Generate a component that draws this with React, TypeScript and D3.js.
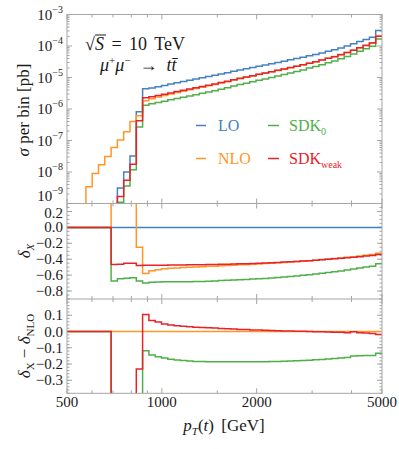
import React from "react";
import * as d3 from "d3";

// ---------- data ----------
const binEdges = [500.0, 523.6, 548.2, 574.1, 601.1, 629.5, 659.1, 690.2, 722.7, 756.8, 792.4, 829.8, 868.9, 909.9, 952.7, 997.6, 1044.6, 1093.9, 1145.4, 1199.4, 1255.9, 1315.1, 1377.1, 1442.0, 1510.0, 1581.1, 1655.7, 1733.7, 1815.4, 1900.9, 1990.5, 2084.3, 2182.6, 2285.4, 2393.2, 2505.9, 2624.0, 2747.7, 2877.2, 3012.8, 3154.8, 3303.5, 3459.2, 3622.2, 3792.9, 3971.6, 4158.8, 4354.8, 4560.1, 4775.0, 5000.0];

const sigmaLO = [0, 0, 0, 0, 0, 0, 0, 3e-10, 3.1e-9, 1.0e-8, 3.2e-8, 8.2e-7,
  4.37e-6, 4.68e-6, 5.13e-6, 5.62e-6, 6.17e-6, 6.76e-6, 7.41e-6, 8.13e-6, 8.91e-6, 9.77e-6,
  1.07e-5, 1.17e-5, 1.29e-5, 1.41e-5, 1.58e-5, 1.74e-5, 1.91e-5, 2.09e-5, 2.29e-5, 2.51e-5,
  2.75e-5, 3.02e-5, 3.31e-5, 3.63e-5, 3.98e-5, 4.37e-5, 4.90e-5, 5.37e-5, 6.03e-5, 6.76e-5,
  7.59e-5, 8.71e-5, 1.00e-4, 1.17e-4, 1.38e-4, 1.62e-4, 1.91e-4, 3.09e-4];

const sigmaNLO = [0, 0, 0, 3.4e-9, 9.0e-9, 1.7e-8, 3.1e-8, 6.0e-8, 1.03e-7, 1.9e-7, 4.0e-7, 6.15e-7,
  1.835e-6, 2.134e-6, 2.396e-6, 2.692e-6, 2.999e-6, 3.319e-6, 3.668e-6, 4.057e-6, 4.482e-6, 4.944e-6,
  5.457e-6, 6.002e-6, 6.669e-6, 7.346e-6, 8.295e-6, 9.205e-6, 1.016e-5, 1.122e-5, 1.239e-5, 1.368e-5,
  1.513e-5, 1.676e-5, 1.854e-5, 2.051e-5, 2.269e-5, 2.517e-5, 2.852e-5, 3.158e-5, 3.588e-5, 4.070e-5,
  4.622e-5, 5.365e-5, 6.25e-5, 7.336e-5, 8.832e-5, 1.053e-4, 1.261e-4, 2.089e-4];

const sigmaSDK0 = [0, 0, 0, 0, 0, 0, 0, 9.8e-11, 1.10e-9, 3.6e-9, 1.17e-8, 2.67e-7,
  1.320e-6, 1.455e-6, 1.601e-6, 1.776e-6, 1.950e-6, 2.136e-6, 2.342e-6, 2.577e-6, 2.842e-6, 3.136e-6,
  3.467e-6, 3.826e-6, 4.270e-6, 4.724e-6, 5.356e-6, 5.968e-6, 6.609e-6, 7.336e-6, 8.130e-6, 9.011e-6,
  1.004e-5, 1.120e-5, 1.248e-5, 1.390e-5, 1.552e-5, 1.739e-5, 1.989e-5, 2.223e-5, 2.551e-5, 2.927e-5,
  3.362e-5, 3.946e-5, 4.650e-5, 5.581e-5, 6.776e-5, 8.132e-5, 9.798e-5, 1.675e-4];

const sigmaSDKweak = [0, 0, 0, 0, 0, 0, 0, 1.6e-10, 1.66e-9, 5.5e-9, 1.76e-8, 4.26e-7,
  2.290e-6, 2.452e-6, 2.693e-6, 2.951e-6, 3.245e-6, 3.563e-6, 3.912e-6, 4.301e-6, 4.722e-6, 5.188e-6,
  5.703e-6, 6.248e-6, 6.914e-6, 7.586e-6, 8.532e-6, 9.431e-6, 1.039e-5, 1.143e-5, 1.260e-5, 1.388e-5,
  1.529e-5, 1.691e-5, 1.867e-5, 2.062e-5, 2.277e-5, 2.521e-5, 2.852e-5, 3.152e-5, 3.576e-5, 4.049e-5,
  4.592e-5, 5.322e-5, 6.18e-5, 7.313e-5, 8.722e-5, 1.037e-4, 1.238e-4, 2.033e-4];

const xMajorTicks = [500, 1000, 2000, 5000];
const xMinorTicks = [600, 700, 800, 900, 1500, 3000, 4000];
const topDecades = [-9, -8, -7, -6, -5, -4, -3];
const midTicks = [0.2, 0.0, -0.2, -0.4, -0.6, -0.8];
const botTicks = [0.1, 0.0, -0.1, -0.2, -0.3];

const COLORS = { LO: "#4381c3", NLO: "#ff9626", SDK0: "#4fb04a", SDKweak: "#e6232a" };

// ---------- layout ----------
const W = 399, H = 449;
const L = 67, R = 382;
const T1 = 14.5, B1 = 203.5, B2 = 299, B3 = 393.3;
const FONT = "'Liberation Serif', 'DejaVu Serif', serif";
const FRAME = "#a6a6a6";
const INK = "#1a1a1a";

const x = d3.scaleLog().domain([500, 5000]).range([L, R]);
const yTop = d3.scaleLog().domain([1e-9, 1e-3]).range([B1, T1]);
const yMid = d3.scaleLinear().domain([-0.9, 0.3]).range([B2, B1]);
const yBot = d3.scaleLinear().domain([-0.38, 0.2]).range([B3, B2]);

const delta = (s: number[]) => s.map((v, i) => (sigmaLO[i] > 0 ? v / sigmaLO[i] - 1 : 0));
const dLO = delta(sigmaLO), dNLO = delta(sigmaNLO), d0 = delta(sigmaSDK0), dW = delta(sigmaSDKweak);
const diff = (d: number[]) => d.map((v, i) => v - dNLO[i]);

const line = d3.line<[number, number]>();
function stepPath(ys: number[]) {
  const pts: [number, number][] = [];
  ys.forEach((y, i) => {
    const yy = Math.max(-100, Math.min(600, y));
    pts.push([x(binEdges[i]), yy], [x(binEdges[i + 1]), yy]);
  });
  return line(pts) || "";
}
const topY = (s: number[]) => s.map((v) => (v > 0 ? yTop(v) : 400));

const series = [
  { key: "LO", top: sigmaLO, mid: dLO },
  { key: "NLO", top: sigmaNLO, mid: dNLO },
  { key: "SDK0", top: sigmaSDK0, mid: d0 },
  { key: "SDKweak", top: sigmaSDKweak, mid: dW },
];

function XTicks({ y0, y1 }: { y0: number; y1: number }) {
  return (
    <g stroke={FRAME} strokeWidth={1}>
      {xMajorTicks.map((t) => (
        <g key={"M" + t}>
          <line x1={x(t)} x2={x(t)} y1={y1} y2={y1 - 5} />
          <line x1={x(t)} x2={x(t)} y1={y0} y2={y0 + 5} />
        </g>
      ))}
      {xMinorTicks.map((t) => (
        <g key={"m" + t}>
          <line x1={x(t)} x2={x(t)} y1={y1} y2={y1 - 3} />
          <line x1={x(t)} x2={x(t)} y1={y0} y2={y0 + 3} />
        </g>
      ))}
    </g>
  );
}

function YTick({ y, len }: { y: number; len: number }) {
  return (
    <g stroke={FRAME} strokeWidth={1}>
      <line x1={L} x2={L + len} y1={y} y2={y} />
      <line x1={R} x2={R - len} y1={y} y2={y} />
    </g>
  );
}

export default function App() {
  const topMinor: number[] = [];
  for (let e = -9; e < -3; e++) for (let m = 2; m <= 9; m++) topMinor.push(m * Math.pow(10, e));
  const midMinor = d3.range(-0.9, 0.30001, 0.05).map((v) => +v.toFixed(2));
  const botMinor = d3.range(-0.38, 0.2001, 0.02).map((v) => +v.toFixed(2));

  return (
    <svg width={W} height={H} style={{ position: "absolute", left: 0, top: 0, background: "#fff", fontFamily: FONT }}>
      <defs>
        <clipPath id="c1"><rect x={L} y={T1} width={R - L} height={B1 - T1} /></clipPath>
        <clipPath id="c2"><rect x={L} y={B1} width={R - L} height={B2 - B1} /></clipPath>
        <clipPath id="c3"><rect x={L} y={B2} width={R - L} height={B3 - B2} /></clipPath>
      </defs>

      {/* ticks */}
      <XTicks y0={T1} y1={B1} />
      <XTicks y0={B1} y1={B2} />
      <XTicks y0={B2} y1={B3} />
      {topDecades.map((e) => <YTick key={"td" + e} y={yTop(Math.pow(10, e))} len={5} />)}
      {topMinor.map((v, i) => <YTick key={"tm" + i} y={yTop(v)} len={2.5} />)}
      {midMinor.map((v, i) => <YTick key={"mm" + i} y={yMid(v)} len={2.5} />)}
      {midTicks.map((v) => <YTick key={"mt" + v} y={yMid(v)} len={5} />)}
      {botMinor.map((v, i) => <YTick key={"bm" + i} y={yBot(v)} len={2.5} />)}
      {botTicks.map((v) => <YTick key={"bt" + v} y={yBot(v)} len={5} />)}

      {/* data */}
      <g clipPath="url(#c1)" fill="none" strokeWidth={1.5}>
        {series.map((s) => (
          <path key={s.key} d={stepPath(topY(s.top))} stroke={(COLORS as any)[s.key]} />
        ))}
      </g>
      <g clipPath="url(#c2)" fill="none" strokeWidth={1.5}>
        {series.map((s) => (
          <path key={s.key} d={stepPath(s.mid.map((v) => yMid(v)))} stroke={(COLORS as any)[s.key]} />
        ))}
      </g>
      <g clipPath="url(#c3)" fill="none" strokeWidth={1.5}>
        {[
          { key: "NLO", v: diff(dNLO) },
          { key: "SDK0", v: diff(d0) },
          { key: "SDKweak", v: diff(dW) },
        ].map((s) => (
          <path key={s.key} d={stepPath(s.v.map((v) => yBot(v)))} stroke={(COLORS as any)[s.key]} />
        ))}
      </g>

      {/* frames */}
      <g fill="none" stroke={FRAME} strokeWidth={1}>
        <rect x={L} y={T1} width={R - L} height={B3 - T1} />
        <line x1={L} x2={R} y1={B1} y2={B1} />
        <line x1={L} x2={R} y1={B2} y2={B2} />
      </g>

      {/* tick labels */}
      <g fontSize={15} fill={INK}>
        {topDecades.map((e) => (
          <text key={"tl" + e} x={63} y={yTop(Math.pow(10, e)) + (e === -9 ? -3 : 5)} textAnchor="end">
            10<tspan fontSize={10} dy={-7}>{"\u2212" + Math.abs(e)}</tspan>
          </text>
        ))}
        {midTicks.map((v) => (
          <text key={"ml" + v} x={63} y={yMid(v) + (v === 0.2 ? 6.5 : 5)} textAnchor="end">
            {(v < 0 ? "\u2212" : "") + Math.abs(v).toFixed(1)}
          </text>
        ))}
        {botTicks.map((v) => (
          <text key={"bl" + v} x={63} y={yBot(v) + 5} textAnchor="end">
            {(v < 0 ? "\u2212" : "") + Math.abs(v).toFixed(1)}
          </text>
        ))}
        {xMajorTicks.map((t) => (
          <text key={"xl" + t} x={x(t)} y={407} textAnchor="middle">{t}</text>
        ))}
      </g>

      {/* axis titles */}
      <g fontSize={17} fill={INK}>
        <text transform="translate(29,110) rotate(-90)" textAnchor="middle">
          <tspan fontStyle="italic">σ</tspan> per bin [pb]
        </text>
        <text transform="translate(30,251) rotate(-90)" textAnchor="middle">
          <tspan fontStyle="italic">δ</tspan><tspan fontSize={11} dy={4} fontStyle="italic">X</tspan>
        </text>
        <text transform="translate(30,346) rotate(-90)" textAnchor="middle">
          <tspan fontStyle="italic">δ</tspan><tspan fontSize={11} dy={4}>X</tspan>
          <tspan dy={-4}> − </tspan><tspan fontStyle="italic">δ</tspan><tspan fontSize={11} dy={4}>NLO</tspan>
        </text>
        <text x={224} y={431} textAnchor="middle" wordSpacing={3}>
          <tspan fontStyle="italic">p</tspan><tspan fontSize={11} dy={4} fontStyle="italic">T</tspan>
          <tspan dy={-4}>(</tspan><tspan fontStyle="italic">t</tspan>) [GeV]
        </text>
      </g>

      {/* annotation */}
      <g fontSize={18} fill={INK}>
        <text x={85} y={50} wordSpacing={3}>
          √<tspan fontStyle="italic">S</tspan> = 10 TeV
        </text>
        <line x1={95} x2={106} y1={35} y2={35} stroke={INK} strokeWidth={1} />
        <text x={100} y={71}>
          <tspan fontStyle="italic">μ</tspan><tspan fontSize={11} dy={-7}>+</tspan>
          <tspan fontStyle="italic" dy={7}>μ</tspan><tspan fontSize={11} dy={-7}>−</tspan>
          <tspan dy={7}>{"\u2002→\u2002"}</tspan><tspan fontStyle="italic">t</tspan><tspan fontStyle="italic">{"t\u0304"}</tspan>
        </text>
      </g>

      {/* legend */}
      <g fontSize={16}>
        <line x1={196} x2={206} y1={125.5} y2={125.5} stroke={COLORS.LO} strokeWidth={1.5} />
        <text x={218} y={131} fill={COLORS.LO}>LO</text>
        <line x1={196} x2={206} y1={158.5} y2={158.5} stroke={COLORS.NLO} strokeWidth={1.5} />
        <text x={218} y={164} fill={COLORS.NLO}>NLO</text>
        <line x1={268} x2={279} y1={125.5} y2={125.5} stroke={COLORS.SDK0} strokeWidth={1.5} />
        <text x={289} y={131} fill={COLORS.SDK0}>SDK<tspan fontSize={10} dy={4}>0</tspan></text>
        <line x1={268} x2={279} y1={158.5} y2={158.5} stroke={COLORS.SDKweak} strokeWidth={1.5} />
        <text x={289} y={164} fill={COLORS.SDKweak}>SDK<tspan fontSize={10} dy={4}>weak</tspan></text>
      </g>
    </svg>
  );
}
